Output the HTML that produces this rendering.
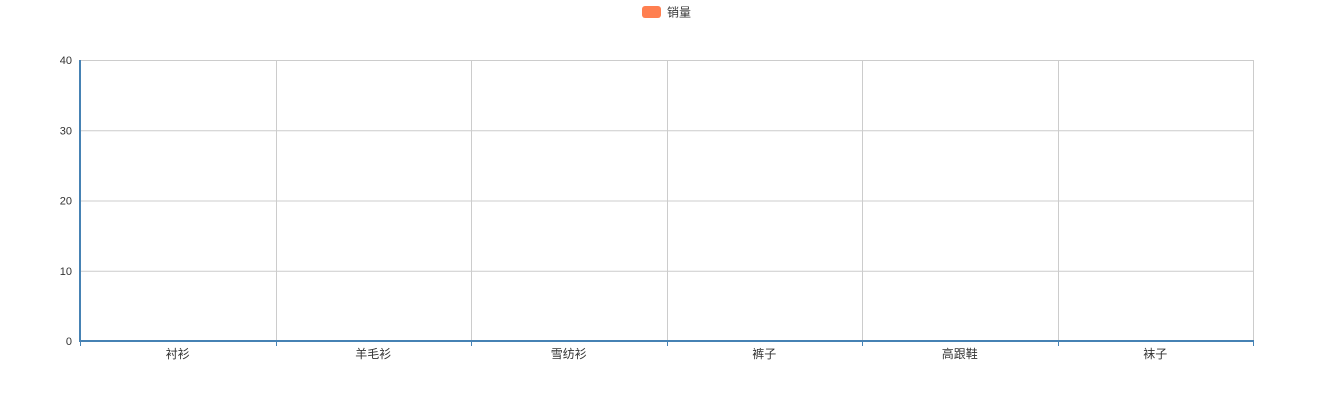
<!DOCTYPE html>
<html><head><meta charset="utf-8"><style>
html,body{margin:0;padding:0;background:#fff;}
svg{display:block;font-family:"Liberation Sans","Noto Sans CJK SC",sans-serif;}
</style></head><body>
<svg id="chart" width="1333" height="400">
  <g>
    <rect x="642" y="6" width="19" height="12" rx="3" fill="#ff7f50"></rect>
    <text x="667" y="16.5" font-size="12" fill="#333">销量</text>
  </g>
  <g id="grid"></g>
  <g id="bars"></g>
  <g id="axes"></g>
</svg>
<script>
const categories = ["衬衫","羊毛衫","雪纺衫","裤子","高跟鞋","袜子"];
const values = [0,0,0,0,0,0];
const yTicks = [0,10,20,30,40];

const NS="http://www.w3.org/2000/svg";
const L=80,R=1253,T=60,B=341,yMax=40;
const xBand=(R-L)/categories.length;
const y=v=>B-(v/yMax)*(B-T);
function mk(tag,attrs,parent,text){const e=document.createElementNS(NS,tag);for(const k in attrs)e.setAttribute(k,attrs[k]);if(text!==undefined)e.textContent=text;parent.appendChild(e);return e;}
const grid=document.getElementById('grid'),bars=document.getElementById('bars'),axes=document.getElementById('axes');
yTicks.forEach(t=>{
  if(t>0){const g=mk('line',{x1:L,x2:R,y1:y(t)+0.5,y2:y(t)+0.5,stroke:'#ccc','stroke-width':1},grid);
  
  }
  const lb=mk('text',{x:72,y:y(t)+4,'font-size':11,fill:'#333','text-anchor':'end'},axes,String(t));
  
  
});
for(let i=1;i<=categories.length;i++){
  const x=Math.round(L+i*xBand)+0.5;
  const g=mk('line',{x1:x,x2:x,y1:T,y2:B,stroke:'#ccc','stroke-width':1},grid);
  
  
}
categories.forEach((c,i)=>{
  const cx=L+(i+0.5)*xBand;
  const bw=xBand*0.6;
  const h=B-y(values[i]);
  const b=mk('rect',{x:cx-bw/2,y:y(values[i]),width:bw,height:Math.max(0,h),fill:'#ff7f50'},bars);
  
  
  const lb=mk('text',{x:cx,y:358,'font-size':12,fill:'#333','text-anchor':'middle'},axes,c);
  
  
});
for(let i=0;i<=categories.length;i++){
  const x=Math.round(L+i*xBand)+0.5;
  const tk=mk('line',{x1:x,x2:x,y1:B,y2:B+5,stroke:'#4682b4','stroke-width':1},axes);
  
  
}
const ya=mk('line',{x1:L,x2:L,y1:T,y2:B+1,stroke:'#4682b4','stroke-width':2},axes);


const xa=mk('line',{x1:L-1,x2:R+1,y1:B,y2:B,stroke:'#4682b4','stroke-width':2},axes);


</script>
</body></html>
